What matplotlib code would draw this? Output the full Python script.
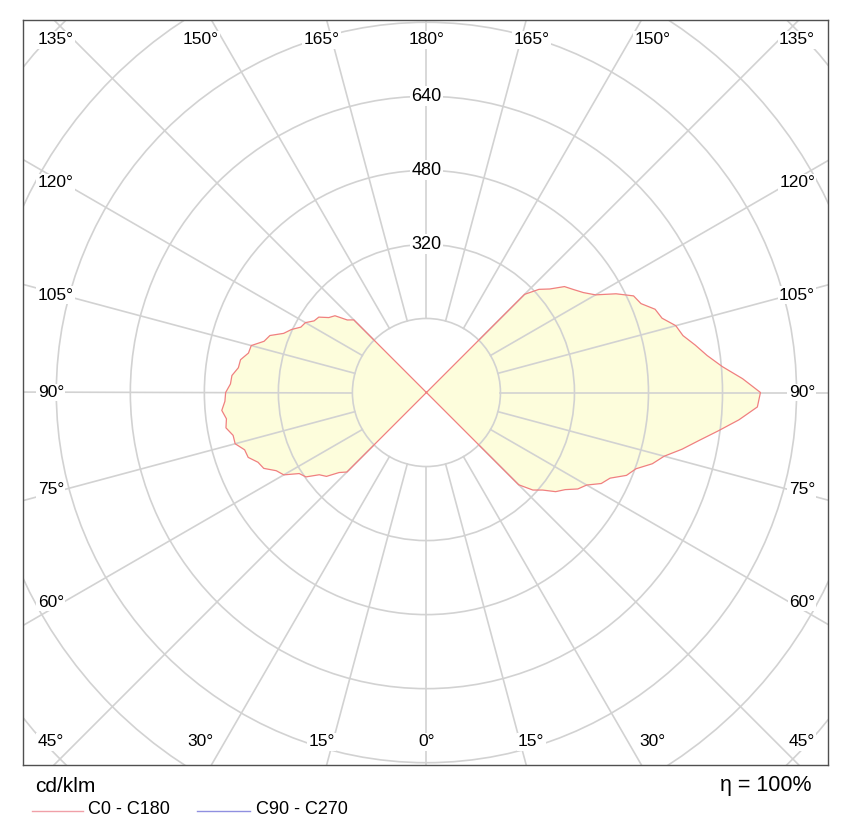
import numpy as np
import matplotlib.pyplot as plt
from matplotlib.patches import Circle, Polygon
from matplotlib.lines import Line2D

plt.rcParams['font.family'] = ['Liberation Sans', 'DejaVu Sans']

# gamma angles of the measured lobe (deg, 0 = nadir)
gamma = np.arange(45, 135.1, 2.5)
# C0 half-plane (drawn on the right), cd/klm
c0 = [282, 312, 328, 352, 366, 388, 400, 426, 438, 468, 482, 512, 532, 566,
      598, 636, 678, 716, 722, 684, 642, 612, 590, 568, 558, 534, 526, 502,
      494, 462, 422, 402, 388, 376, 348, 330, 300]
# C180 half-plane (drawn on the left), cd/klm
c180 = [243, 256, 282, 292, 318, 326, 356, 366, 388, 394, 410, 412, 428, 428,
        440, 436, 444, 436, 434, 424, 422, 410, 408, 394, 392, 368, 360, 334,
        322, 306, 302, 288, 284, 266, 258, 232, 222]

rings = [160, 320, 480, 640, 800, 960, 1120]
ring_labels = [320, 480, 640]
spokes = np.arange(0, 360, 15)
top_angles = [135, 150, 165, 180, 165, 150, 135]
side_angles = [120, 105, 90, 75, 60]
bottom_angles = [45, 30, 15, 0, 15, 30, 45]

fig = plt.figure(figsize=(8.5, 8.26), dpi=100)
ax = fig.add_axes([23/850, 61/826, 805/850, 745/826])
x0, x1, y0, y1 = -872, 868, -805, 805
ax.set_xlim(x0, x1)
ax.set_ylim(y0, y1)
ax.set_xticks([])
ax.set_yticks([])
for s in ax.spines.values():
    s.set_color('#505050')
    s.set_linewidth(1.0)

g = np.radians(gamma)
c0 = np.array(c0)
c180 = np.array(c180)
xr = c0 * np.sin(g)
yr = -c0 * np.cos(g)
xl = -c180 * np.sin(g)
yl = -c180 * np.cos(g)
px = np.concatenate([[0], xr, [0], xl[::-1], [0]])
py = np.concatenate([[0], yr, [0], yl[::-1], [0]])
ax.add_patch(Polygon(np.column_stack([px, py]), closed=True,
                     facecolor='#fdfddc', edgecolor='none', zorder=1))

# grid
for r in rings:
    ax.add_patch(Circle((0, 0), r, fill=False, edgecolor='#d2d2d2', lw=1.2, zorder=2))
for a in spokes:
    t = np.radians(a)
    ax.plot([160*np.sin(t), 1400*np.sin(t)], [-160*np.cos(t), -1400*np.cos(t)],
            color='#d2d2d2', lw=1.2, zorder=2)

ax.plot(px, py, color='#f08080', lw=0.9, zorder=3)

bb = dict(facecolor='white', edgecolor='none', pad=1.0)
for r in ring_labels:
    ax.text(0, r, str(r), ha='center', va='center', fontsize=13, bbox=bb, zorder=4)

# angle labels on the frame
def place(a, side, row):
    t = np.radians(a)
    if row == 'top' or row == 'bottom':
        dx = abs(y1 * np.tan(np.pi - t)) if row == 'top' else abs(y1 * np.tan(t))
        x = side * 1.05 * dx
        y = 762 if row == 'top' else -755
        if abs(x) > 820:
            return side * 840, y, ('left' if side < 0 else 'right')
        return x, y, 'center'
    dy = 872 * np.tan(t - np.pi/2)
    return side * 840, 0.9 * dy, ('left' if side < 0 else 'right')

sides = [-1, -1, -1, 1, 1, 1, 1]
for a, sd in zip(top_angles, sides):
    if a == 180:
        sd = 0
    x, y, ha = place(a, sd, 'top')
    ax.text(x, y, f'{a}°', ha=ha, va='center', fontsize=12.5, bbox=bb, zorder=4)
for a, sd in zip(bottom_angles, sides):
    if a == 0:
        sd = 0
    x, y, ha = place(a, sd, 'bottom')
    ax.text(x, y, f'{a}°', ha=ha, va='center', fontsize=12.5, bbox=bb, zorder=4)
for a in side_angles:
    for sd in (-1, 1):
        x, y, ha = place(a, sd, 'side')
        ax.text(x, y, f'{a}°', ha=ha, va='center', fontsize=12.5, bbox=bb, zorder=4)

# footer
fig.text(35/850, 1 - 787/826, 'cd/klm', fontsize=15, va='center', ha='left')
fig.text(812/850, 1 - 785/826, 'η = 100%', fontsize=15.5, va='center', ha='right')
fig.add_artist(Line2D([32/850, 83/850], [1 - 811/826]*2, color='#f0a0a8', lw=1))
fig.text(88/850, 1 - 810/826, 'C0 - C180', fontsize=13, va='center', ha='left')
fig.add_artist(Line2D([197/850, 250/850], [1 - 811/826]*2, color='#9090e0', lw=1))
fig.text(256/850, 1 - 810/826, 'C90 - C270', fontsize=13, va='center', ha='left')

fig.savefig('out.png', dpi=100, facecolor='white')
